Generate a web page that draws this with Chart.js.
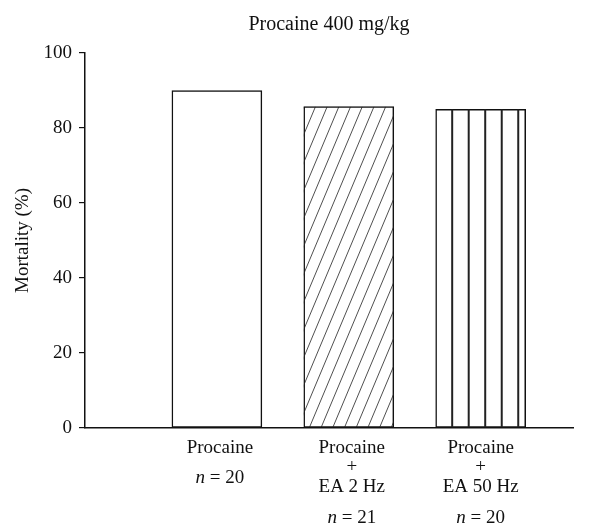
<!DOCTYPE html>
<html>
<head>
<meta charset="utf-8">
<script src="https://cdn.jsdelivr.net/npm/chart.js@4"></script>
<style>
  html, body { margin: 0; padding: 0; background: #fff; }
  #wrap { width: 607px; height: 523px; }
</style>
</head>
<body>
<div id="wrap"><canvas id="bar-chart" width="607" height="523"></canvas></div>
<script>
// data
const groups = ['Procaine', 'Procaine + EA 2 Hz', 'Procaine + EA 50 Hz'];
const mortality = [90, 85.7, 85];
const groupPos = [1, 2, 3];
const groupLabels = [
    ['Procaine', 'n = 20'],
    ['Procaine', '+', 'EA 2 Hz', 'n = 21'],
    ['Procaine', '+', 'EA 50 Hz', 'n = 20']
];
const hatches = ['none', 'diagonal', 'vertical'];
const yTicks = [0, 20, 40, 60, 80, 100];

const FONT = '"Liberation Serif", "DejaVu Serif", serif';
const FS = 19;

// line offsets below the axis for each label block
const lineY = {
    2: [20, 50],
    4: [20, 39, 59, 90]
};

const hatchPlugin = {
    id: 'hatch',
    afterDatasetsDraw(chart) {
        const ctx = chart.ctx;
        const meta = chart.getDatasetMeta(0);
        meta.data.forEach((bar, i) => {
            const kind = hatches[i];
            if (kind === 'none') return;
            const left = bar.x - bar.width / 2;
            const right = bar.x + bar.width / 2;
            const top = bar.y;
            const bottom = bar.base;
            ctx.save();
            ctx.beginPath();
            ctx.rect(left, top, right - left, bottom - top);
            ctx.clip();
            ctx.strokeStyle = '#222';
            ctx.beginPath();
            if (kind === 'diagonal') {
                ctx.lineWidth = 0.8;
                const step = 11.7, slope = 0.42;
                const h = bottom - top;
                for (let x = left - h * slope; x < right + step; x += step) {
                    ctx.moveTo(x, bottom);
                    ctx.lineTo(x + h * slope, top);
                }
            } else {
                ctx.lineWidth = 2;
                const step = (right - left) / 5.45;
                for (let k = 1; k <= 5; k++) {
                    const x = left + k * step;
                    ctx.moveTo(x, top);
                    ctx.lineTo(x, bottom);
                }
            }
            ctx.stroke();
            ctx.restore();
        });
    }
};

const labelPlugin = {
    id: 'groupLabels',
    afterDraw(chart) {
        const ctx = chart.ctx;
        const xs = chart.scales.x;
        const base = chart.chartArea.bottom;
        ctx.save();
        ctx.fillStyle = '#111';
        ctx.textBaseline = 'middle';
        groupLabels.forEach((lines, i) => {
            const cx = xs.getPixelForValue(groupPos[i]) + (i === 2 ? 0 : 3);
            const offs = lineY[lines.length];
            lines.forEach((txt, j) => {
                const y = base + offs[j];
                if (txt.startsWith('n = ')) {
                    // italic n, like the figure
                    const rest = txt.slice(1);
                    ctx.font = 'italic ' + FS + 'px ' + FONT;
                    const wn = ctx.measureText('n').width;
                    ctx.font = FS + 'px ' + FONT;
                    const wr = ctx.measureText(rest).width;
                    const x0 = cx - (wn + wr) / 2;
                    ctx.textAlign = 'left';
                    ctx.font = 'italic ' + FS + 'px ' + FONT;
                    ctx.fillText('n', x0, y);
                    ctx.font = FS + 'px ' + FONT;
                    ctx.fillText(rest, x0 + wn, y);
                } else {
                    ctx.textAlign = 'center';
                    ctx.font = FS + 'px ' + FONT;
                    ctx.fillText(txt, cx, y);
                }
            });
        });
        ctx.restore();
    }
};

const ctx = document.getElementById('bar-chart').getContext('2d');
new Chart(ctx, {
    type: 'bar',
    data: {
        labels: groups,
        datasets: [{
            label: 'Mortality (%)',
            data: mortality.map((v, i) => ({ x: groupPos[i], y: v })),
            backgroundColor: '#fff',
            borderColor: '#111',
            borderWidth: 1.5,
            borderSkipped: false,
            barThickness: 90
        }]
    },
    options: {
        responsive: false,
        animation: false,
        devicePixelRatio: 1,
        layout: { padding: { left: 0, right: 34, top: 0, bottom: 0 } },
        plugins: {
            legend: { display: false },
            tooltip: { enabled: false },
            title: {
                display: true,
                fullSize: false,
                text: 'Procaine 400 mg/kg',
                color: '#111',
                font: { family: FONT, size: 20, weight: 'normal' },
                padding: { top: 13, bottom: 16 }
            }
        },
        scales: {
            x: {
                type: 'linear',
                offset: false,
                min: 0,
                max: 3.7,
                afterFit: s => { s.height = 95; },
                grid: { display: false },
                border: { display: true, color: '#111', width: 1.5 },
                ticks: { display: false, stepSize: 1 }
            },
            y: {
                min: 0,
                max: 100,
                afterFit: s => { s.width = 85; },
                afterBuildTicks: s => { s.ticks = yTicks.map(v => ({ value: v })); },
                grid: { drawOnChartArea: false, drawTicks: true, tickLength: 6, color: '#111', lineWidth: 1.2 },
                border: { display: true, color: '#111', width: 1.5 },
                ticks: {
                    color: '#111',
                    padding: 7,
                    font: { family: FONT, size: FS }
                },
                title: {
                    display: true,
                    text: 'Mortality (%)',
                    color: '#111',
                    font: { family: FONT, size: FS },
                    padding: { top: 12, bottom: 0 }
                }
            }
        }
    },
    plugins: [hatchPlugin, labelPlugin]
});
</script>
</body>
</html>
